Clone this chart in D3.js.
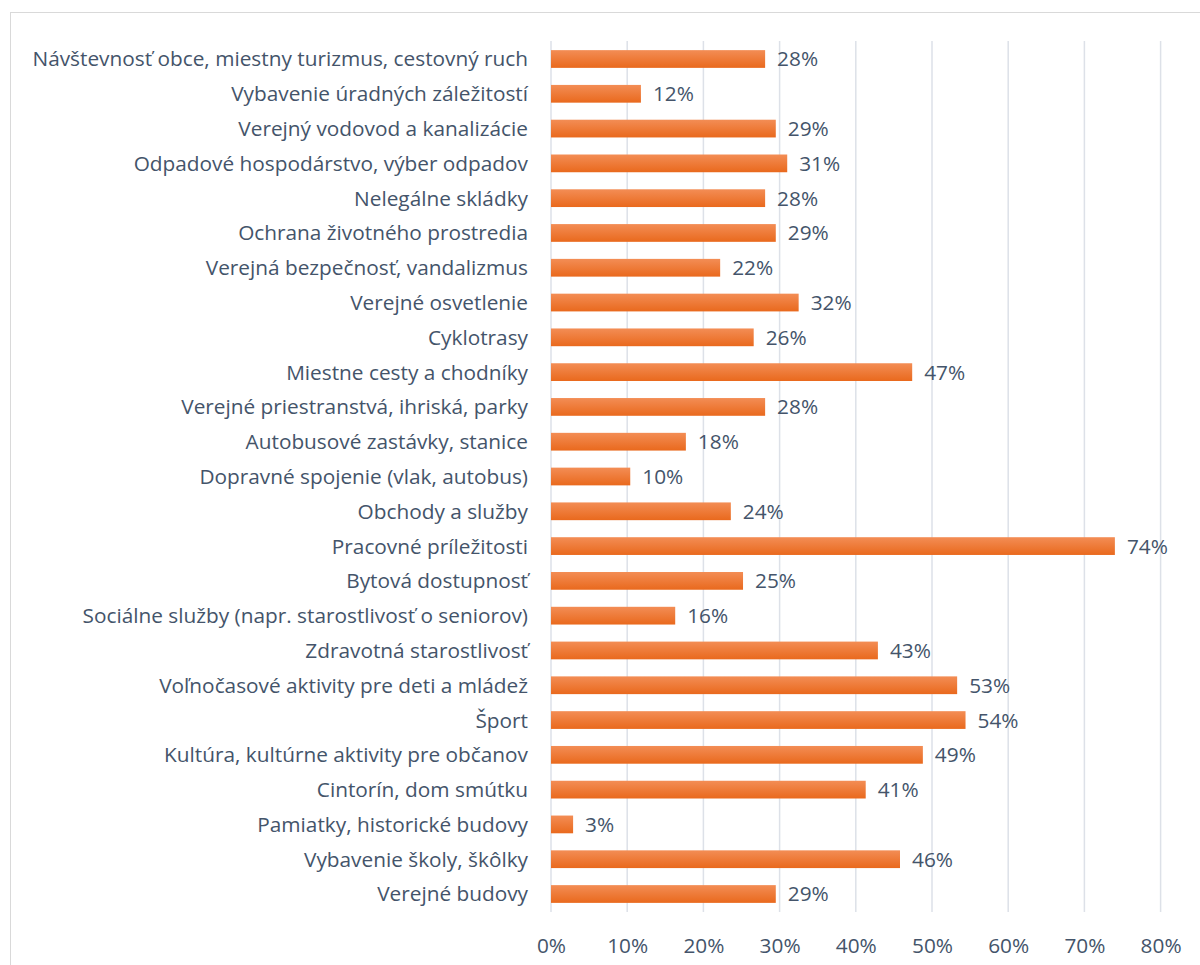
<!DOCTYPE html>
<html>
<head>
<meta charset="utf-8">
<script src="https://cdn.jsdelivr.net/npm/d3@7"></script>
<style>
  html, body { margin: 0; padding: 0; background: #fff; }
  svg { display: block; }
  text { font-family: "Open Sans", "Noto Sans", sans-serif; fill: #44546a; }
</style>
</head>
<body>
<svg id="chart" width="1200" height="965"></svg>
<script>
const categories = [
  "Návštevnosť obce, miestny turizmus, cestovný ruch",
  "Vybavenie úradných záležitostí",
  "Verejný vodovod a kanalizácie",
  "Odpadové hospodárstvo, výber odpadov",
  "Nelegálne skládky",
  "Ochrana životného prostredia",
  "Verejná bezpečnosť, vandalizmus",
  "Verejné osvetlenie",
  "Cyklotrasy",
  "Miestne cesty a chodníky",
  "Verejné priestranstvá, ihriská, parky",
  "Autobusové zastávky, stanice",
  "Dopravné spojenie (vlak, autobus)",
  "Obchody a služby",
  "Pracovné príležitosti",
  "Bytová dostupnosť",
  "Sociálne služby (napr. starostlivosť o seniorov)",
  "Zdravotná starostlivosť",
  "Voľnočasové aktivity pre deti a mládež",
  "Šport",
  "Kultúra, kultúrne aktivity pre občanov",
  "Cintorín, dom smútku",
  "Pamiatky, historické budovy",
  "Vybavenie školy, škôlky",
  "Verejné budovy"
];
const values = [0.281, 0.118, 0.295, 0.310, 0.281, 0.295, 0.222, 0.325, 0.266, 0.474, 0.281, 0.177, 0.104, 0.236, 0.740, 0.252, 0.163, 0.429, 0.533, 0.544, 0.488, 0.413, 0.029, 0.458, 0.295];
const valueLabels = ["28%","12%","29%","31%","28%","29%","22%","32%","26%","47%","28%","18%","10%","24%","74%","25%","16%","43%","53%","54%","49%","41%","3%","46%","29%"];
const tickValues = [0, 0.1, 0.2, 0.3, 0.4, 0.5, 0.6, 0.7, 0.8];
const tickLabels = ["0%","10%","20%","30%","40%","50%","60%","70%","80%"];

const FS = 20.8;
const svg = d3.select("#chart");

// chart frame
svg.append("rect")
  .attr("x", 10.5).attr("y", 12.5)
  .attr("width", 1200).attr("height", 1000)
  .attr("fill", "none").attr("stroke", "#d9d9d9").attr("stroke-width", 1);

const x = d3.scaleLinear().domain([0, 0.8]).range([551, 1160.6]);
const y = d3.scaleBand().domain(categories).range([41.6, 911.4])
  .paddingInner(0.49).paddingOuter(0.245);

const defs = svg.append("defs");
const grad = defs.append("linearGradient").attr("id", "barGrad")
  .attr("x1", 0).attr("y1", 0).attr("x2", 0).attr("y2", 1);
grad.append("stop").attr("offset", "0%").attr("stop-color", "#f38d55");
grad.append("stop").attr("offset", "100%").attr("stop-color", "#e9691d");

// gridlines
svg.append("g").selectAll("line").data(tickValues).join("line")
  .attr("x1", d => x(d)).attr("x2", d => x(d))
  .attr("y1", 41).attr("y2", 912)
  .attr("stroke", "#dde1e8").attr("stroke-width", 1.5);

// bars
svg.append("g").selectAll("rect").data(values).join("rect")
  .attr("x", x(0))
  .attr("y", (d, i) => y(categories[i]))
  .attr("width", d => x(d) - x(0))
  .attr("height", y.bandwidth())
  .attr("fill", "url(#barGrad)");

// value labels
svg.append("g").selectAll("text").data(values).join("text")
  .attr("x", d => x(d) + 12)
  .attr("y", (d, i) => y(categories[i]) + y.bandwidth() / 2)
  .attr("dy", "0.36em")
  .attr("font-size", FS)
  .text((d, i) => valueLabels[i]);

// category labels
svg.append("g").selectAll("text").data(categories).join("text")
  .attr("x", 528)
  .attr("y", d => y(d) + y.bandwidth() / 2)
  .attr("dy", "0.36em")
  .attr("text-anchor", "end")
  .attr("font-size", FS)
  .text(d => d);

// x axis tick labels
const xAxis = d3.axisBottom(x).tickValues(tickValues)
  .tickFormat((d, i) => tickLabels[i]).tickSize(0).tickPadding(0);
const gx = svg.append("g").attr("transform", "translate(0,945)").call(xAxis);
gx.select(".domain").remove();
gx.selectAll("text")
  .attr("font-size", FS)
  .attr("font-family", "'Open Sans', 'Noto Sans', sans-serif")
  .attr("fill", "#44546a")
  .attr("dy", "0.36em");
</script>
</body>
</html>
